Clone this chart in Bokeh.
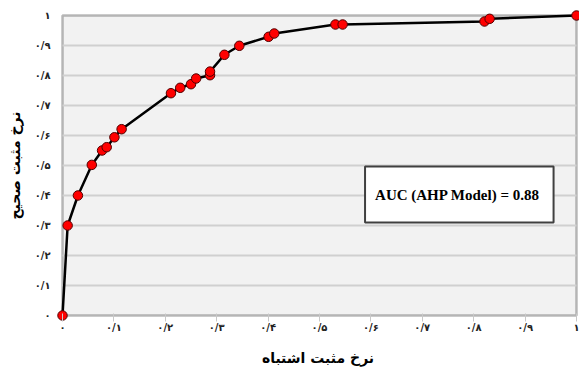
from bokeh.plotting import figure
from bokeh.models import Range1d, FixedTicker, BoxAnnotation, Label
from bokeh.embed import file_html
from bokeh.resources import INLINE

# ROC curve points (false positive rate, true positive rate)
fpr = [0.0, 0.010, 0.030, 0.057, 0.077, 0.086, 0.101, 0.115, 0.211, 0.229, 0.250,
       0.260, 0.287, 0.287, 0.315, 0.344, 0.401, 0.412, 0.531, 0.545, 0.821, 0.831, 1.0]
tpr = [0.0, 0.300, 0.400, 0.502, 0.550, 0.561, 0.594, 0.621, 0.741, 0.759, 0.771,
       0.790, 0.801, 0.813, 0.869, 0.899, 0.929, 0.940, 0.970, 0.970, 0.980, 0.989, 1.0]

tick_values = [0.0, 0.1, 0.2, 0.3, 0.4, 0.5, 0.6, 0.7, 0.8, 0.9, 1.0]
tick_labels = ["۰", "۰/۱", "۰/۲", "۰/۳", "۰/۴", "۰/۵", "۰/۶", "۰/۷", "۰/۸", "۰/۹", "۱"]
grid_values = tick_values[1:-1]

x_title = "نرخ مثبت اشتباه"
y_title = "نرخ مثبت صحیح"
auc_text = "AUC (AHP  Model) = 0.88"

p = figure(width=579, height=372, output_backend="svg", toolbar_location=None,
           x_range=Range1d(-6 / 514, 1 + 3 / 514), y_range=Range1d(-0.02, 1.02),
           min_border_left=56, min_border_right=0, min_border_top=9, min_border_bottom=51)
p.outline_line_color = None
p.background_fill_color = "white"
p.border_fill_color = "white"
p.xgrid.visible = False
p.ygrid.visible = False

# plot area box
box = BoxAnnotation(left=0, right=1, bottom=0, top=1, fill_color="#f2f2f2", fill_alpha=1.0,
                    line_color="#1a1a1a", line_width=2.5, level="image")
p.add_layout(box)

# horizontal gridlines
p.segment(x0=[0] * len(grid_values), x1=[1] * len(grid_values), y0=grid_values, y1=grid_values,
          line_color="#d0d0d0", line_width=2)

p.line(fpr, tpr, line_color="black", line_width=2.5)
p.scatter(fpr, tpr, size=9.5, fill_color="#ff0000", line_color="#500000", line_width=1)

label_overrides = {v: t for v, t in zip(tick_values, tick_labels)}
for ax in (p.xaxis[0], p.yaxis[0]):
    ax.ticker = FixedTicker(ticks=tick_values)
    ax.major_label_overrides = label_overrides
    ax.axis_line_color = None
    ax.minor_tick_line_color = None
    ax.major_label_text_font = "DejaVu Sans"
    ax.major_label_text_font_style = "bold"
    ax.major_label_text_font_size = "10px"
    ax.major_label_text_color = "#222222"
    ax.axis_label_text_font = "DejaVu Sans"
    ax.axis_label_text_font_style = "bold"
    ax.axis_label_text_font_size = "14px"
    ax.axis_label_text_color = "black"

p.xaxis[0].axis_label = x_title
p.xaxis[0].major_tick_in = 8
p.xaxis[0].major_tick_out = 0
p.xaxis[0].major_tick_line_color = "#c8c8c8"
p.xaxis[0].major_label_standoff = 0
p.xaxis[0].axis_label_standoff = 14

p.yaxis[0].axis_label = y_title
p.yaxis[0].major_tick_in = 0
p.yaxis[0].major_tick_out = 0
p.yaxis[0].major_tick_line_color = None
p.yaxis[0].major_label_standoff = 6
p.yaxis[0].axis_label_standoff = 9

auc = Label(x=0.772, y=0.403, text=auc_text, text_align="center", text_baseline="middle",
            text_font="Liberation Serif", text_font_style="bold", text_font_size="15px",
            text_color="black", background_fill_color="white", background_fill_alpha=1.0,
            border_line_color="#404040", border_line_width=2, padding=(10, 20))
p.add_layout(auc)

open("out.html", "w").write(file_html(p, INLINE))
